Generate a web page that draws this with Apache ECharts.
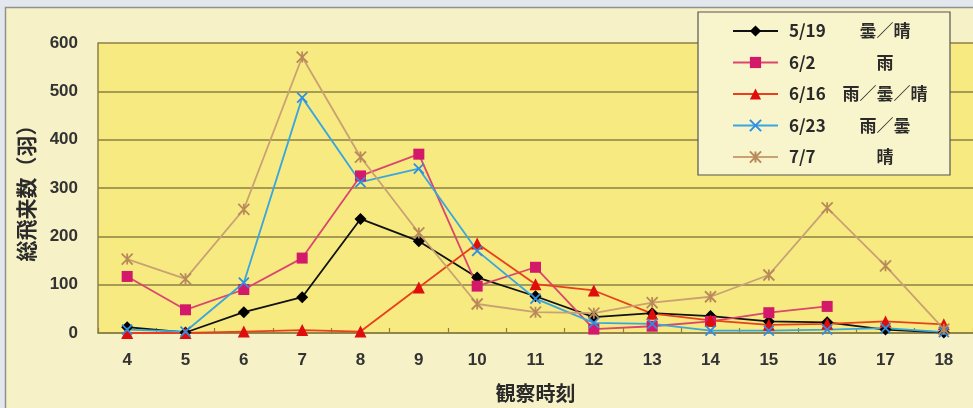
<!DOCTYPE html>
<html>
<head>
<meta charset="utf-8">
<script src="https://cdn.jsdelivr.net/npm/echarts@6/dist/echarts.min.js"></script>
<style>
html,body{margin:0;padding:0;background:#e3e7ee;}
#c{width:973px;height:408px;}
</style>
</head>
<body>
<div id="c"></div>
<script>
const categories = ['4','5','6','7','8','9','10','11','12','13','14','15','16','17','18'];
const yTicks = [0,100,200,300,400,500,600];
const names = ['5/19', '6/2', '6/16', '6/23', '7/7'];
const weather = ['曇／晴', '雨', '雨／曇／晴', '雨／曇', '晴'];
const s0519 = [12, 1, 43, 74, 236, 190, 115, 76, 33, 41, 35, 24, 22, 7, 1];
const s0602 = [117, 48, 90, 155, 325, 370, 97, 136, 8, 14, 24, 42, 55, null, null];
const s0616 = [0, 0, 3, 6, 3, 94, 185, 101, 88, 40, 26, 17, 19, 24, 18];
const s0623 = [7, 3, 104, 487, 312, 340, 170, 71, 21, 19, 5, 5, 7, 10, 2];
const s0707 = [153, 112, 256, 571, 364, 207, 60, 43, 41, 63, 75, 120, 259, 139, 8];

const crossPath = 'path://M0,0 L10,10 M10,0 L0,10';
const starPath = 'path://M5,0 L5,10 M0,0 L10,10 M10,0 L0,10';

const chart = echarts.init(document.getElementById('c'));
const font = '"Noto Sans CJK JP", "Liberation Sans", sans-serif';
const numFont = '"Liberation Sans", sans-serif';

function mk(name, data, color, lineColor, symbol, size, stroke) {
  const s = {
    name: name,
    type: 'line',
    data: data,
    symbol: symbol,
    symbolSize: size,
    showAllSymbol: true,
    connectNulls: false,
    lineStyle: { color: lineColor, width: 1.8 },
    itemStyle: { color: color },
    z: 3
  };
  if (stroke) {
    s.itemStyle = { color: 'rgba(0,0,0,0)', borderColor: color, borderWidth: 1.8 };
  }
  return s;
}

const legendMap = {};
names.forEach((n, i) => legendMap[n] = weather[i]);

chart.setOption({
  backgroundColor: 'transparent',
  animation: false,
  textStyle: { fontFamily: font },
  graphic: [{
    type: 'rect',
    shape: { x: 5.5, y: 7.5, width: 980, height: 420 },
    style: { fill: '#f6f1c6', stroke: '#8f948f', lineWidth: 1.5 },
    z: -10
  }],
  grid: { left: 98, top: 43, width: 879, height: 291, show: true, backgroundColor: '#f7ea80', borderWidth: 0 },
  legend: {
    orient: 'vertical',
    left: 698, top: 12,
    padding: [9, 21, 8, 34],
    itemWidth: 45, itemHeight: 14, itemGap: 11.5,
    backgroundColor: '#f8f4cb',
    borderColor: '#555555', borderWidth: 1.2,
    data: names,
    formatter: function (n) { return '{s|}{d|' + n + '}{w|' + legendMap[n] + '}'; },
    textStyle: {
      fontFamily: font, fontSize: 17, fontWeight: 'bold', color: '#2a2a2a', lineHeight: 20,
      rich: {
        s: { width: 6, lineHeight: 20 },
        d: { width: 52, fontSize: 17, fontWeight: 'bold', color: '#2a2a2a', fontFamily: font, lineHeight: 20 },
        w: { width: 88, align: 'center', fontSize: 17, fontWeight: 'bold', color: '#2a2a2a', fontFamily: font, lineHeight: 20 }
      }
    }
  },
  xAxis: {
    type: 'category',
    data: categories,
    boundaryGap: true,
    name: '観察時刻',
    nameLocation: 'middle',
    nameGap: 50,
    nameTextStyle: { fontSize: 20, fontWeight: 'bold', color: '#2a2a2a', fontFamily: font },
    axisLine: { lineStyle: { color: '#8c7f45', width: 1.5 } },
    axisTick: { show: true, inside: true, length: 5, lineStyle: { color: '#8c7f45', width: 1.2 } },
    axisLabel: { fontSize: 17, fontWeight: 'bold', color: '#333', margin: 19, fontFamily: numFont },
    splitLine: { show: false }
  },
  yAxis: {
    type: 'value',
    min: 0, max: 600, interval: 100,
    name: '総飛来数（羽）',
    nameLocation: 'middle',
    nameGap: 61,
    nameRotate: 90,
    nameTextStyle: { fontSize: 21, fontWeight: 'bold', color: '#2a2a2a', fontFamily: font },
    axisLine: { show: true, lineStyle: { color: '#8c7f45', width: 1.5 } },
    axisTick: { show: false },
    axisLabel: { fontSize: 17, fontWeight: 'bold', color: '#333', margin: 20, fontFamily: numFont,
      formatter: v => yTicks.includes(v) ? String(v) : '' },
    splitLine: { lineStyle: { color: '#8c7f45', width: 1.5 } }
  },
  series: [
    mk('5/19', s0519, '#000000', '#111111', 'diamond', 12, false),
    mk('6/2', s0602, '#d4186a', '#d9466e', 'rect', 11, false),
    mk('6/16', s0616, '#e00d0d', '#e8401c', 'triangle', 12, false),
    mk('6/23', s0623, '#2f8fe0', '#3aa6e0', crossPath, 10, true),
    mk('7/7', s0707, '#b88a5a', '#c9a173', starPath, 11, true)
  ]
});
</script>
</body>
</html>
